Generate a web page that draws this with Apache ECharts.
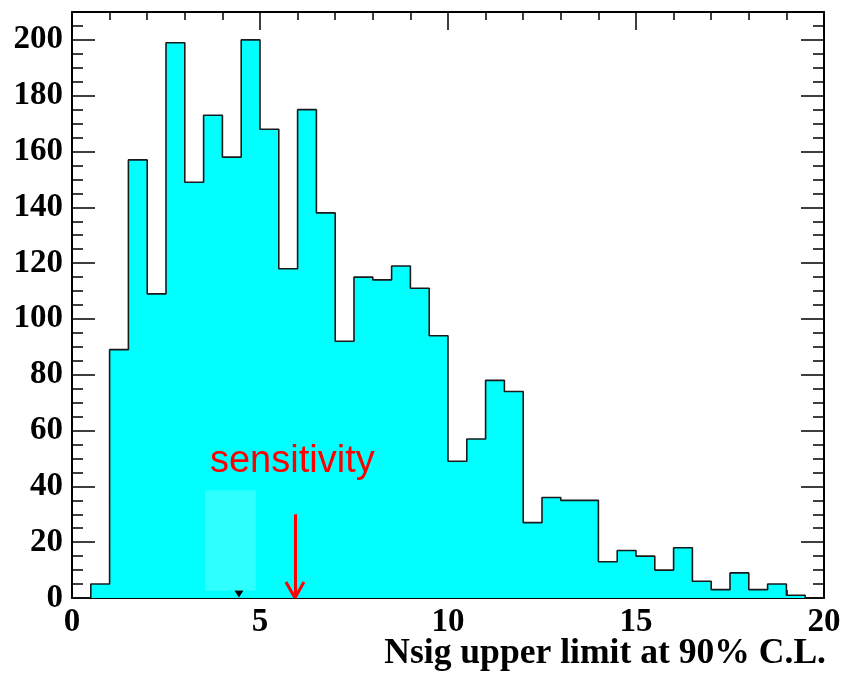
<!DOCTYPE html>
<html>
<head>
<meta charset="utf-8">
<script src="https://cdn.jsdelivr.net/npm/echarts@6/dist/echarts.min.js"></script>
<style>
  html, body { margin: 0; padding: 0; background: #ffffff; }
  #chart { width: 841px; height: 674px; }
</style>
</head>
<body>
<div id="chart"></div>
<script>
// Histogram of the 90% C.L. upper limit on Nsig (bins of 0.5 starting at 0)
const binStart = 0;
const binWidth = 0.5;
const counts = [
  0, 5, 89, 157, 109, 199, 149, 173, 158, 200,
  168, 118, 175, 138, 92, 115, 114, 119, 111, 94,
  49, 57, 78, 74, 27, 36, 35, 35, 13, 17,
  15, 10, 18, 6, 3, 9, 3, 5, 1, 0
];

// Axis ranges and tick labels
const xRange = [0, 20];
const yRange = [0, 210];
const xTicks = [0, 5, 10, 15, 20];
const yTicks = [0, 20, 40, 60, 80, 100, 120, 140, 160, 180, 200];

// Annotations
const sensitivityValue = 5.93;     // red arrow position
const arrowTop = 30;               // arrow starts at this count
const sensitivityLabel = 'sensitivity';
const sensitivityLabelAt = [5.86, 49];
const medianValue = 4.44;          // small black marker on the axis
const bandX = [3.54, 4.89];        // pale band around the median
const bandY = [2.6, 38.6];

const xTitle = 'Nsig upper limit at 90% C.L.';

// Step outline points: one per bin lower edge, plus the final upper edge
const stepPoints = counts.map((c, i) => [binStart + i * binWidth, c]);
stepPoints.push([binStart + counts.length * binWidth, counts[counts.length - 1]]);

const serif = '"Liberation Serif", "Times New Roman", serif';
const sans = '"Liberation Sans", Arial, sans-serif';
const frame = { show: true, onZero: false, lineStyle: { color: '#000', width: 2 } };

function yAxisDef(position, major, withLabels) {
  return {
    type: 'value', position: position, min: yRange[0], max: yRange[1],
    interval: major ? 20 : 5,
    axisLine: major ? frame : { show: false, onZero: false },
    axisTick: { show: true, inside: true, length: major ? 23 : 11, lineStyle: { color: '#000', width: 1.5 } },
    axisLabel: withLabels ? {
      show: true, margin: 9, showMaxLabel: false,
      fontFamily: serif, fontWeight: 'bold', fontSize: 33, color: '#000',
      formatter: v => (yTicks.indexOf(v) >= 0 ? String(v) : '')
    } : { show: false },
    splitLine: { show: false }
  };
}

function xAxisDef(position, withLabels) {
  return {
    type: 'value', position: position, min: xRange[0], max: xRange[1], interval: 5,
    axisLine: frame,
    axisTick: { show: true, inside: true, length: 18, lineStyle: { color: '#000', width: 1.5 } },
    minorTick: { show: true, splitNumber: 5, length: 8, lineStyle: { color: '#000', width: 1.5 } },
    axisLabel: withLabels ? {
      show: true, margin: 8,
      fontFamily: serif, fontWeight: 'bold', fontSize: 33, color: '#000',
      formatter: v => (xTicks.indexOf(v) >= 0 ? String(v) : '')
    } : { show: false },
    splitLine: { show: false },
    minorSplitLine: { show: false }
  };
}

const chart = echarts.init(document.getElementById('chart'), null, { renderer: 'canvas' });

chart.setOption({
  animation: false,
  backgroundColor: '#ffffff',
  grid: { left: 72, top: 12, right: 17, bottom: 76, containLabel: false, outerBoundsMode: 'none' },
  xAxis: [xAxisDef('bottom', true), xAxisDef('top', false)],
  yAxis: [
    yAxisDef('left', true, true),
    yAxisDef('left', false, false),
    yAxisDef('right', true, false),
    yAxisDef('right', false, false)
  ],
  graphic: [{
    type: 'text', right: 15, top: 636, silent: true,
    style: {
      text: xTitle, fill: '#000',
      font: 'bold 35.6px ' + serif
    }
  }],
  series: [{
    type: 'line',
    xAxisIndex: 0, yAxisIndex: 0,
    step: 'end',
    showSymbol: false,
    data: stepPoints,
    lineStyle: { color: '#1a1a1a', width: 1.6 },
    areaStyle: { color: '#00ffff', opacity: 1, origin: 'start' },
    markLine: {
      silent: true,
      symbol: ['none', 'none'],
      label: { show: false },
      lineStyle: { color: '#ff0000', width: 3, type: 'solid' },
      data: [
        [{ coord: [sensitivityValue, arrowTop] }, { coord: [sensitivityValue, 0] }],
        [{ coord: [sensitivityValue - 0.24, 5.7] }, { coord: [sensitivityValue, 0] }],
        [{ coord: [sensitivityValue + 0.24, 5.7] }, { coord: [sensitivityValue, 0] }]
      ]
    },
    markPoint: {
      silent: true,
      data: [
        {
          coord: [medianValue, 1.4], symbol: 'triangle', symbolRotate: 180,
          symbolSize: [9, 7], itemStyle: { color: '#000' }, label: { show: false }
        },
        {
          coord: sensitivityLabelAt, symbol: 'circle', symbolSize: 0,
          label: {
            show: true, position: 'inside', formatter: sensitivityLabel,
            color: '#ff0000', fontFamily: sans, fontSize: 38
          }
        }
      ]
    }
  }, {
    // pale band drawn on top of the filled histogram
    type: 'custom',
    xAxisIndex: 0, yAxisIndex: 0,
    z: 5,
    silent: true,
    data: [[bandX[0], bandY[1], bandX[1], bandY[0]]],
    renderItem: function (params, api) {
      const p0 = api.coord([api.value(0), api.value(1)]);
      const p1 = api.coord([api.value(2), api.value(3)]);
      return {
        type: 'rect',
        shape: { x: p0[0], y: p0[1], width: p1[0] - p0[0], height: p1[1] - p0[1] },
        style: { fill: 'rgba(255,255,255,0.18)' }
      };
    }
  }]
});
</script>
</body>
</html>
